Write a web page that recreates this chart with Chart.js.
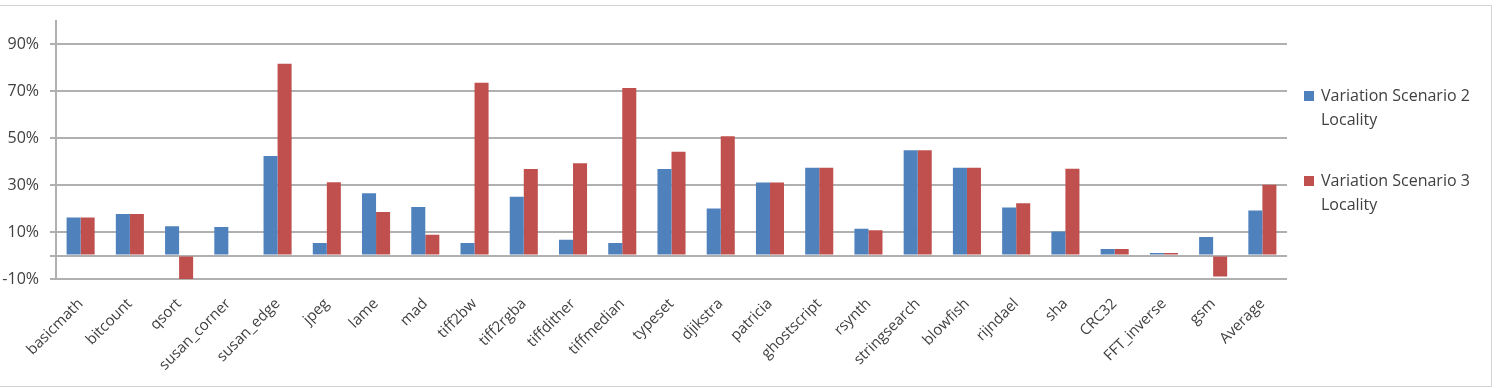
<!DOCTYPE html>
<html>
<head>
<meta charset="utf-8">
<script src="https://cdn.jsdelivr.net/npm/chart.js@4/dist/chart.umd.min.js"></script>
<style>
	html, body { margin: 0; padding: 0; background: #fff; }
	#wrap { position: relative; width: 1496px; height: 388px; }
	#frame { position: absolute; left: 0; top: 5px; width: 1492px; height: 382px; border: 1px solid #d4d4d4; border-left: none; box-sizing: border-box; }
	#chart { position: absolute; left: 0; top: 0; }
	#legend { position: absolute; left: 1304px; top: 83px; font-family: "Open Sans", sans-serif; font-size: 16px; color: #404040; line-height: 24px; }
	.item { position: relative; padding-left: 17px; margin-bottom: 37px; }
	.box { position: absolute; left: 0; top: 8px; width: 10px; height: 10px; }
</style>
</head>
<body>
<div id="wrap">
	<div id="frame"></div>
	<canvas id="chart" width="1496" height="388"></canvas>
	<div id="legend"></div>
</div>
<script>
const categories = ['basicmath','bitcount','qsort','susan_corner','susan_edge','jpeg','lame','mad','tiff2bw','tiff2rgba','tiffdither','tiffmedian','typeset','djikstra','patricia','ghostscript','rsynth','stringsearch','blowfish','rijndael','sha','CRC32','FFT_inverse','gsm','Average'];
const scenario2 = [16.2,17.7,12.5,12.1,42.4,5.3,26.5,20.6,5.3,25.0,6.7,5.3,36.8,20.0,31.1,37.4,11.4,44.8,37.4,20.4,10.2,2.8,1.1,7.9,19.2];
const scenario3 = [16.2,17.7,-10.0,0,81.6,31.2,18.5,8.8,73.5,36.8,39.3,71.3,44.2,50.8,31.1,37.4,10.7,44.8,37.4,22.2,36.9,2.8,1.1,-8.9,30.1];
const seriesNames = [['Variation Scenario 2','Locality'],['Variation Scenario 3','Locality']];
const yTicks = [-10,0,10,30,50,70,90];

const colors = ['#4F81BD','#C0504D'];
const font = "'Open Sans', sans-serif";

const chart = new Chart(document.getElementById('chart').getContext('2d'), {
	type: 'bar',
	data: {
		labels: categories,
		datasets: [
			{ label: seriesNames[0].join(' '), data: scenario2, backgroundColor: colors[0] },
			{ label: seriesNames[1].join(' '), data: scenario3, backgroundColor: colors[1] }
		]
	},
	options: {
		responsive: false,
		animation: false,
		layout: { padding: { left: 0, top: 18, right: 209, bottom: 0 } },
		datasets: { bar: { categoryPercentage: 0.57, barPercentage: 1.0 } },
		plugins: { legend: { display: false }, tooltip: { enabled: false } },
		scales: {
			x: {
				grid: { display: false },
				border: { display: false },
				ticks: {
					autoSkip: false, maxRotation: 45, minRotation: 45,
					color: '#404040', font: { family: font, size: 15 }, padding: 8
				},
				afterFit(scale) { scale.height = 109; }
			},
			y: {
				min: -10, max: 100,
				afterBuildTicks(scale) { scale.ticks = yTicks.map(v => ({ value: v })); },
				afterFit(scale) { scale.width = 56; },
				grid: { color: '#b0b0b0', lineWidth: 2, tickLength: 6 },
				border: { color: '#b0b0b0', width: 2 },
				ticks: {
					color: '#404040', font: { family: font, size: 16 }, padding: 11,
					callback: v => v === 0 ? '' : v + '%'
				}
			}
		}
	}
});

// legend on the right, two-line labels like the original
const legend = document.getElementById('legend');
seriesNames.forEach((lines, i) => {
	const item = document.createElement('div');
	item.className = 'item';
	item.innerHTML = '<span class="box" style="background:' + colors[i] + '"></span>' + lines.join('<br>');
	legend.appendChild(item);
});
</script>
</body>
</html>
